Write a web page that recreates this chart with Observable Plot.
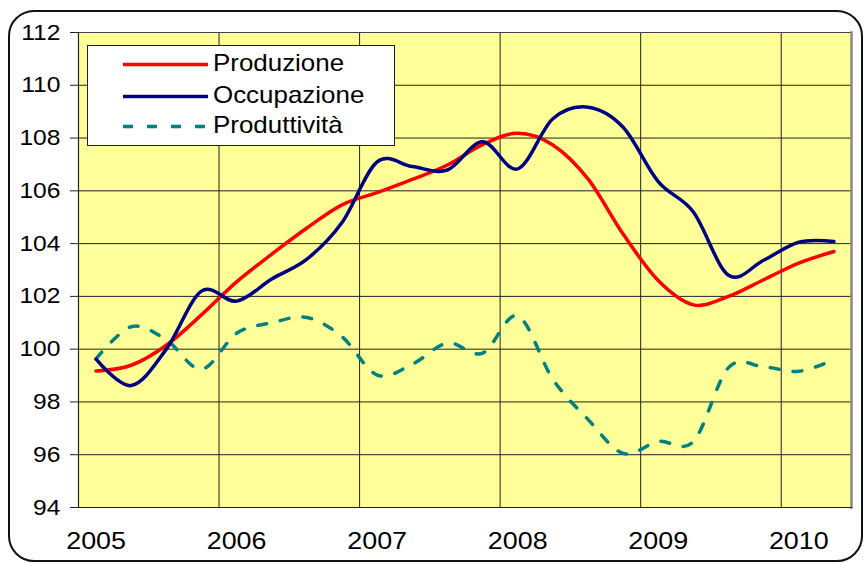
<!DOCTYPE html>
<html>
<head>
<meta charset="utf-8">
<script src="https://cdn.jsdelivr.net/npm/d3@7"></script>
<script src="https://cdn.jsdelivr.net/npm/@observablehq/plot@0.6"></script>
<style>
  html, body { margin: 0; padding: 0; background: #fff; }
  #wrap { position: relative; width: 866px; height: 563px; overflow: hidden; font-family: "Liberation Sans", Arial, sans-serif; }
  #border { position: absolute; left: 8px; top: 10px; width: 855px; height: 552px; box-sizing: border-box;
            border: 2px solid #111; border-radius: 26px; }
  #chart { position: absolute; left: 0; top: 0; }
  #legend { position: absolute; left: 87px; top: 45px; width: 308px; height: 101px; box-sizing: border-box;
            background: #fff; border: 1.5px solid #222; }
  #legend svg { position: absolute; left: -1.5px; top: -1.5px; }
</style>
</head>
<body>
<div id="wrap">
  <div id="border"></div>
  <div id="chart"></div>
  <div id="legend"></div>
</div>
<script>
// Quarterly categories (2005 T1 ... 2010 T2)
const quarters = ["2005 T1","2005 T2","2005 T3","2005 T4",
                  "2006 T1","2006 T2","2006 T3","2006 T4",
                  "2007 T1","2007 T2","2007 T3","2007 T4",
                  "2008 T1","2008 T2","2008 T3","2008 T4",
                  "2009 T1","2009 T2","2009 T3","2009 T4",
                  "2010 T1","2010 T2"];
const produzione   = [99.17, 99.39, 100.15, 101.3, 102.55, 103.6, 104.59, 105.47, 105.93, 106.43, 106.98, 107.75,
                      108.18, 107.74, 106.45, 104.36, 102.6, 101.68, 102.0, 102.63, 103.26, 103.7];
const occupazione  = [99.62, 98.62, 100.0, 102.2, 101.82, 102.66, 103.41, 104.8, 107.1, 106.92, 106.79, 107.86,
                      106.83, 108.73, 109.17, 108.41, 106.35, 105.2, 102.8, 103.37, 104.05, 104.08];
const produttivita = [99.63, 100.85, 100.35, 99.24, 100.6, 101.0, 101.2, 100.47, 99.02, 99.43, 100.23, 99.85,
                      101.26, 98.86, 97.34, 96.05, 96.5, 96.5, 99.3, 99.33, 99.16, 99.6];
const seriesNames  = ["Produzione", "Occupazione", "Produttività"];
const seriesColors = ["#FF0000", "#000080", "#008080"];
const yearLabels   = [2005, 2006, 2007, 2008, 2009, 2010];
const yTicks       = [94, 96, 98, 100, 102, 104, 106, 108, 110, 112];

// quarter label -> position in years (category centre)
function qx(label) {
  const [y, q] = label.split(" T");
  return +y + (+q - 0.5) / 4;
}
const allSeries = [produzione, occupazione, produttivita];
const rows = [];
allSeries.forEach((vals, s) => vals.forEach((v, i) => rows.push({serie: seriesNames[s], t: qx(quarters[i]), v})));

const chart = Plot.plot({
  width: 866,
  height: 563,
  marginLeft: 78,
  marginRight: 15,
  marginTop: 32,
  marginBottom: 56,
  style: {fontFamily: "'Liberation Sans', Arial, sans-serif", fontSize: "22px", color: "#000", background: "transparent"},
  x: {domain: [2005, 2010.5]},
  y: {domain: [94, 112]},
  color: {domain: seriesNames, range: seriesColors},
  marks: [
    Plot.frame({fill: "#FFFF99", stroke: null}),
    Plot.gridY(yTicks, {stroke: "#222", strokeOpacity: 1, strokeWidth: 1}),
    Plot.gridX(yearLabels.slice(1), {stroke: "#222", strokeOpacity: 1, strokeWidth: 1}),
    Plot.frame({stroke: "#444", strokeWidth: 1}),
    Plot.frame({anchor: "right", stroke: "#888", strokeWidth: 2.5}),
    Plot.frame({anchor: "left", stroke: "#222", strokeWidth: 1.2}),
    Plot.frame({anchor: "bottom", stroke: "#222", strokeWidth: 1.2}),
    Plot.axisY(yTicks, {tickSize: 8, tickPadding: 10, fontSize: 22, label: null, stroke: "#222"}),
    Plot.axisX({ticks: [], label: null}),
    Plot.text(yearLabels, {x: d => d + 0.125, text: d => String(d), frameAnchor: "bottom",
                           lineAnchor: "bottom", dy: 41, fontSize: 24, fill: "#000"}),
    Plot.line(rows.filter(d => d.serie === "Produttività"), {x: "t", y: "v", stroke: "serie",
      strokeWidth: 3.5, strokeDasharray: "9,14", curve: "cardinal"}),
    Plot.line(rows.filter(d => d.serie === "Produzione"), {x: "t", y: "v", stroke: "serie",
      strokeWidth: 3.5, curve: "cardinal"}),
    Plot.line(rows.filter(d => d.serie === "Occupazione"), {x: "t", y: "v", stroke: "serie",
      strokeWidth: 3.5, curve: "cardinal"})
  ]
});
document.getElementById("chart").appendChild(chart);

// Legend
const leg = d3.select("#legend").append("svg").attr("width", 308).attr("height", 101);
const legY = [19.5, 51.5, 81.5];
seriesNames.forEach((n, i) => {
  leg.append("line").attr("x1", 36).attr("x2", 121).attr("y1", legY[i]).attr("y2", legY[i])
    .attr("stroke", seriesColors[i]).attr("stroke-width", 3.5)
    .attr("stroke-dasharray", i === 2 ? "10,14" : null);
  leg.append("text").attr("x", 126).attr("y", legY[i] + 6.5).attr("font-size", 24)
    .attr("font-family", "'Liberation Sans', Arial, sans-serif").attr("fill", "#000").text(n);
});

// Horizontal stretch of text (the reference is slightly widened)
function stretch(root, f) {
  root.querySelectorAll("text").forEach(t => {
    const L = t.getComputedTextLength();
    if (L > 0) { t.setAttribute("textLength", (L * f).toFixed(1)); t.setAttribute("lengthAdjust", "spacingAndGlyphs"); }
  });
}
stretch(chart, 1.12);
stretch(document.getElementById("legend"), 1.08);
</script>
</body>
</html>
